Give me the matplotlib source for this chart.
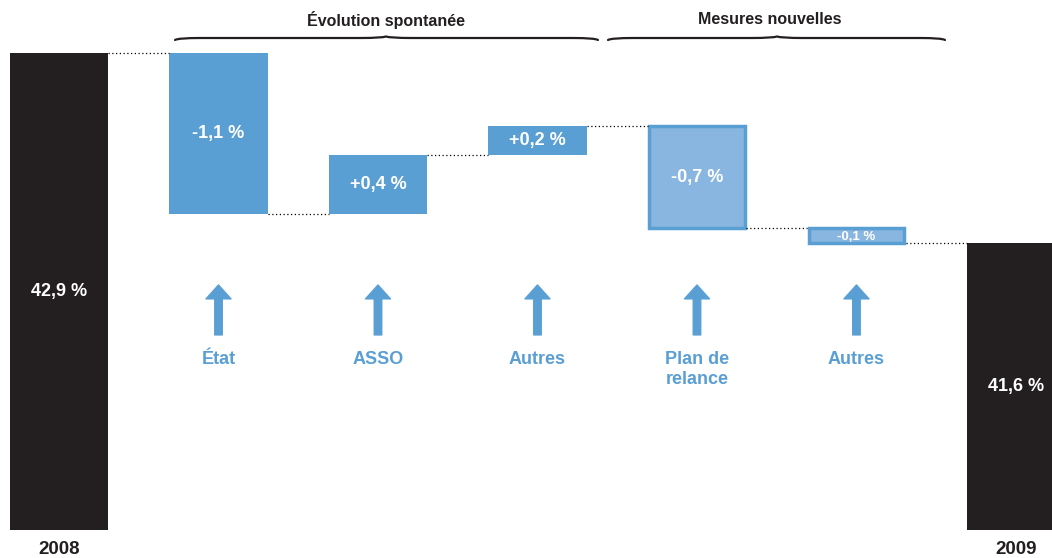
import matplotlib.pyplot as plt
from matplotlib.path import Path
from matplotlib.patches import PathPatch

plt.rcParams['font.family'] = ['Liberation Sans', 'DejaVu Sans']
plt.rcParams['font.weight'] = 'bold'

# solde en % du PIB : 2008 -> 2009
start_label, end_label = "2008", "2009"
start_value = 42.9
end_value = 41.6
steps = [-1.1, 0.4, 0.2, -0.7, -0.1]
step_labels = ["-1,1 %", "+0,4 %", "+0,2 %", "-0,7 %", "-0,1 %"]
categories = ["État", "ASSO", "Autres", "Plan de\nrelance", "Autres"]
new_measure = [False, False, False, True, True]
groups = ["Évolution spontanée", "Mesures nouvelles"]

dark = "#231f20"
blue = "#5a9fd4"
light = "#89b6e0"

fig = plt.figure(figsize=(10.52, 5.58), dpi=100)
ax = fig.add_axes([0, 0, 1, 1])
ax.set_xlim(-0.37, 6.226)
ax.set_ylim(39.441, 43.263)
ax.axis("off")

base = 39.633
w = 0.615
n = len(steps)

# totals
ax.bar(0, start_value - base, bottom=base, width=w, color=dark)
ax.bar(n + 1, end_value - base, bottom=base, width=w, color=dark)
ax.text(0, (start_value + base) / 2, "42,9 %", color="white", fontsize=13,
        ha="center", va="center")
ax.text(n + 1, (end_value + base) / 2, "41,6 %", color="white", fontsize=13,
        ha="center", va="center")
ax.text(0, 39.50, start_label, color=dark, fontsize=13.5, ha="center", va="center")
ax.text(n + 1, 39.50, end_label, color=dark, fontsize=13.5, ha="center", va="center")

# steps
level = start_value
ax.plot([w / 2, 1 - w / 2], [level, level], color="black", lw=0.9, ls=(0, (1, 2)))
for i, (d, lab, cat, new) in enumerate(zip(steps, step_labels, categories, new_measure)):
    x = i + 1
    lo, hi = min(level, level + d), max(level, level + d)
    if new:
        ax.bar(x, hi - lo, bottom=lo, width=w - 0.015, color=light,
               edgecolor=blue, linewidth=2.5)
    else:
        ax.bar(x, hi - lo, bottom=lo, width=w, color=blue)
    small = abs(d) < 0.15
    ax.text(x, (lo + hi) / 2 - (0.008 if small else 0), lab, color="white",
            fontsize=9.5 if small else 13, ha="center", va="center")
    level += d
    ax.plot([x + w / 2, x + 1 - w / 2], [level, level], color="black", lw=0.9,
            ls=(0, (1, 2)))
    # arrow and category name
    ax.annotate("", xy=(x, 41.311), xytext=(x, 40.969),
                arrowprops=dict(arrowstyle="simple,head_length=0.5,head_width=0.9,tail_width=0.27",
                                color=blue, mutation_scale=20, shrinkA=0, shrinkB=0))
    ax.text(x, 40.86, cat, color=blue, fontsize=13, ha="center", va="top",
            linespacing=1.25)

# braces over the two groups, drawn in pixel space
ov = fig.add_axes([0, 0, 1, 1], facecolor="none")
ov.set_xlim(0, 1052)
ov.set_ylim(558, 0)
ov.axis("off")


def brace(x0, x1, xm, y):
    verts = [(x0, y + 2), (x0 + 3, y), (x0 + 25, y),
             (xm - 25, y), (xm - 4, y), (xm, y - 1.5),
             (xm + 4, y), (xm + 25, y),
             (x1 - 25, y), (x1 - 3, y), (x1, y + 2)]
    codes = [Path.MOVETO, Path.CURVE3, Path.CURVE3,
             Path.LINETO, Path.CURVE3, Path.CURVE3,
             Path.CURVE3, Path.CURVE3,
             Path.LINETO, Path.CURVE3, Path.CURVE3]
    ov.add_patch(PathPatch(Path(verts, codes), fill=False, color=dark, lw=1.6,
                           capstyle="round"))


brace(175, 598, 386, 38)
brace(608, 945, 777, 38)
ov.text(386, 20, groups[0], color=dark, fontsize=11.5, ha="center", va="center")
ov.text(770, 20, groups[1], color=dark, fontsize=11.5, ha="center", va="center")

fig.savefig("out.png", dpi=100)
